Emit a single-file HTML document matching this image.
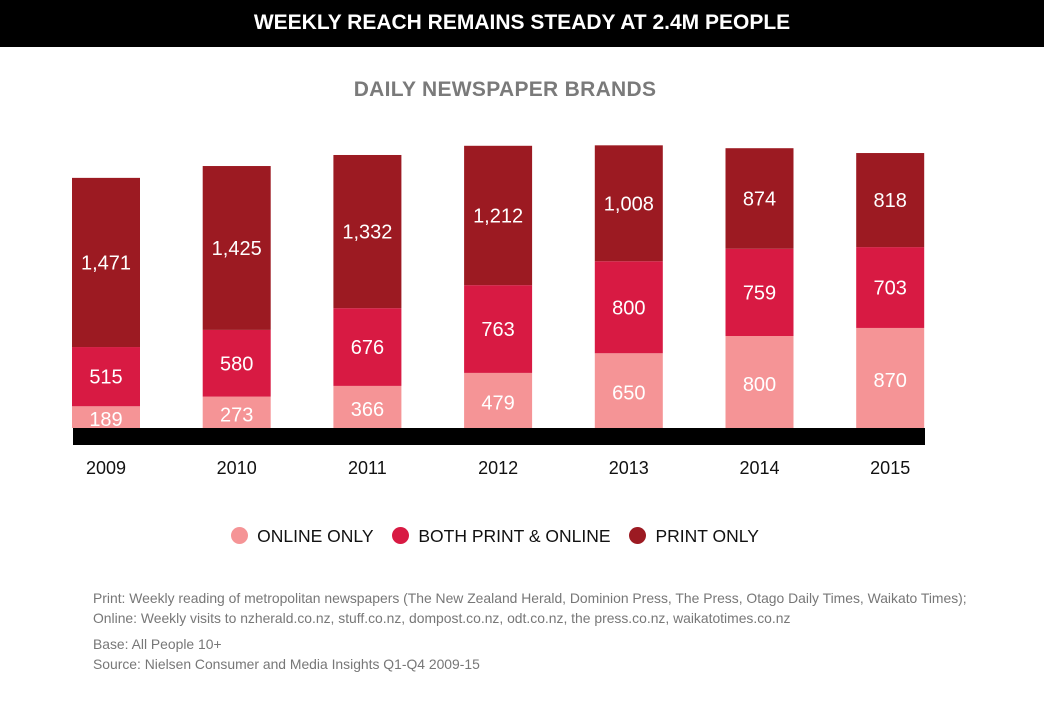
<!DOCTYPE html>
<html><head><meta charset="utf-8"><style>
body{margin:0;width:1044px;height:717px;background:#fff;font-family:"Liberation Sans",sans-serif;position:relative;overflow:hidden}
.title{position:absolute;left:0;top:0;width:1044px;height:47px;background:#000;color:#fff;font-weight:bold;font-size:21px;text-align:center;line-height:45px;letter-spacing:0}
.sub{position:absolute;left:0;top:78px;width:1010px;text-align:center;color:#7a7a7a;font-weight:bold;font-size:21px;letter-spacing:0.3px}
.legend{position:absolute;top:526px;left:0;width:990px;text-align:center;font-size:17.5px;color:#111}
.legend span{display:inline-block;margin:0 7px}
.dot{display:inline-block;width:17px;height:17px;border-radius:50%;vertical-align:-2px;margin-right:9px}
.note{position:absolute;left:93px;font-size:13.9px;color:#777;line-height:20px;white-space:nowrap}
</style></head><body>
<div class="title">WEEKLY REACH REMAINS STEADY AT 2.4M PEOPLE</div>
<div class="sub">DAILY NEWSPAPER BRANDS</div>
<svg id="chart" width="1044" height="500" style="position:absolute;left:0;top:0"></svg>
<div class="legend">
<span><i class="dot" style="background:#f59496"></i>ONLINE ONLY</span>
<span><i class="dot" style="background:#d81a43"></i>BOTH PRINT &amp; ONLINE</span>
<span><i class="dot" style="background:#9c1a22"></i>PRINT ONLY</span>
</div>
<div class="note" style="top:588px">Print: Weekly reading of metropolitan newspapers (The New Zealand Herald, Dominion Press, The Press, Otago Daily Times, Waikato Times);<br>Online: Weekly visits to nzherald.co.nz, stuff.co.nz, dompost.co.nz, odt.co.nz, the press.co.nz, waikatotimes.co.nz</div>
<div class="note" style="top:634px">Base: All People 10+<br>Source: Nielsen Consumer and Media Insights Q1-Q4 2009-15</div>
<script>
const years=["2009","2010","2011","2012","2013","2014","2015"];
const onlineOnly=[189,273,366,479,650,800,870];
const bothPrintOnline=[515,580,676,763,800,759,703];
const printOnly=[1471,1425,1332,1212,1008,874,818];
const svg=document.getElementById('chart');
const NS="http://www.w3.org/2000/svg";
const base=428,scale=0.115,x0=106,step=130.7,bw=68;
const y=v=>v*scale;
const xc=i=>x0+i*step;
function mk(t,a){const e=document.createElementNS(NS,t);for(const k in a)e.setAttribute(k,a[k]);svg.appendChild(e);return e;}
const series=[[onlineOnly,"#f59496","online-only"],[bothPrintOnline,"#d81a43","both-print-online"],[printOnly,"#9c1a22","print-only"]];
years.forEach((yr,i)=>{
  let cum=0;
  series.forEach(([arr,col,nm])=>{
    const v=arr[i],h=y(v),top=base-y(cum)-h;
    const r=mk('rect',{x:xc(i)-bw/2,y:top,width:bw,height:h,fill:col});
    
    
    const t=mk('text',{x:xc(i),y:top+h/2+7+(nm==="online-only"?2:0),fill:"#fff","font-size":"20","text-anchor":"middle"});
    t.textContent=v.toLocaleString('en-US');
    
    
    cum+=v;
  });
  const l=mk('text',{x:xc(i),y:474,fill:"#111","font-size":"18","text-anchor":"middle"});
  l.textContent=yr;
  
  
});
const b=mk('rect',{x:73,y:base,width:852,height:17,fill:"#000"});


</script>
</body></html>
